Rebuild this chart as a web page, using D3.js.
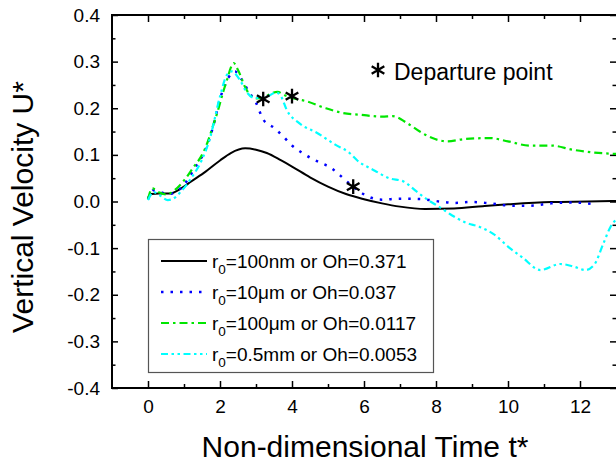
<!DOCTYPE html>
<html>
<head>
<meta charset="utf-8">
<script src="https://cdn.jsdelivr.net/npm/d3@7"></script>
<style>
  body { margin: 0; background: #fff; }
  svg { display: block; font-family: "Liberation Sans", Arial, Helvetica, sans-serif; }
</style>
</head>
<body>
<div id="chart"></div>
<script>
// tick values
const xMajorTicks = [0, 2, 4, 6, 8, 10, 12]
const xMinorTicks = [1, 3, 5, 7, 9, 11]
const yMajorTicks = [-0.4, -0.3, -0.2, -0.1, 0.0, 0.1, 0.2, 0.3, 0.4]
const yMinorTicks = [-0.35, -0.25, -0.15, -0.05, 0.05, 0.15, 0.25, 0.35]

// series: r0 = 100nm (Oh = 0.371)
const tBlack = [0, 0.1, 0.3, 0.6, 0.9, 1.2, 1.6, 2.0, 2.3, 2.7, 3.0, 3.3, 3.7, 4.0, 4.5, 5.0, 5.5, 6.0, 6.5, 7.0, 7.7, 8.5, 9.3, 10.0, 11.2, 12.2, 13.0]
const uBlack = [0.008, 0.016, 0.017, 0.017, 0.027, 0.043, 0.064, 0.088, 0.104, 0.114, 0.111, 0.104, 0.088, 0.075, 0.052, 0.032, 0.016, 0.005, -0.004, -0.011, -0.016, -0.015, -0.010, -0.006, -0.001, 0.0, 0.001]

// r0 = 10um (Oh = 0.037)
const tBlue = [0, 0.15, 0.35, 0.55, 0.8, 1.0, 1.3, 1.6, 1.8, 2.0, 2.15, 2.3, 2.42, 2.6, 2.8, 3.0, 3.2, 3.5, 3.75, 4.0, 4.25, 4.55, 4.8, 5.1, 5.35, 5.6, 5.9, 6.2, 6.5, 7.0, 7.6, 8.1, 8.5, 9.0, 9.5, 10.1, 10.6, 11.2, 11.8, 12.3]
const uBlue = [0.005, 0.024, 0.02, 0.016, 0.022, 0.036, 0.072, 0.112, 0.158, 0.22, 0.252, 0.273, 0.279, 0.262, 0.235, 0.212, 0.176, 0.158, 0.14, 0.12, 0.106, 0.092, 0.083, 0.071, 0.055, 0.038, 0.02, 0.008, 0.004, 0.006, 0.005, 0.0, -0.003, -0.001, -0.004, -0.009, -0.009, -0.004, -0.002, -0.005]

// r0 = 100um (Oh = 0.0117)
const tGreen = [0, 0.12, 0.3, 0.5, 0.75, 1.0, 1.25, 1.5, 1.65, 1.8, 1.95, 2.1, 2.2, 2.3, 2.38, 2.5, 2.7, 2.85, 3.0, 3.2, 3.4, 3.6, 3.8, 4.0, 4.4, 4.9, 5.4, 5.9, 6.5, 6.8, 7.2, 7.55, 7.9, 8.3, 8.8, 9.5, 10.0, 10.6, 11.2, 11.8, 12.4, 13.0]
const uGreen = [0.005, 0.028, 0.02, 0.015, 0.025, 0.045, 0.072, 0.1, 0.126, 0.161, 0.197, 0.238, 0.262, 0.287, 0.297, 0.282, 0.245, 0.227, 0.221, 0.222, 0.231, 0.235, 0.228, 0.222, 0.215, 0.201, 0.19, 0.186, 0.182, 0.183, 0.168, 0.15, 0.136, 0.129, 0.134, 0.136, 0.129, 0.12, 0.12, 0.111, 0.105, 0.102]

// r0 = 0.5mm (Oh = 0.0053)
const tCyan = [0, 0.15, 0.35, 0.55, 0.7, 0.9, 1.2, 1.5, 1.7, 2.0, 2.18, 2.32, 2.55, 2.73, 2.96, 3.3, 3.56, 3.7, 3.85, 4.2, 4.7, 5.2, 5.6, 5.8, 6.3, 6.7, 7.1, 7.45, 7.8, 8.1, 8.45, 8.85, 9.2, 9.6, 10.05, 10.4, 10.9, 11.45, 11.8, 12.15, 12.4, 12.65, 12.85, 13.0]
const uCyan = [0.003, 0.02, 0.012, 0.003, 0.006, 0.02, 0.05, 0.09, 0.13, 0.225, 0.27, 0.279, 0.261, 0.236, 0.222, 0.225, 0.234, 0.225, 0.197, 0.168, 0.147, 0.122, 0.104, 0.089, 0.066, 0.05, 0.043, 0.022, 0.002, -0.012, -0.03, -0.046, -0.054, -0.07, -0.1, -0.12, -0.147, -0.134, -0.139, -0.147, -0.135, -0.09, -0.054, -0.039]

// departure points
const tDepart = [3.2, 4.0, 5.7]
const uDepart = [0.22, 0.226, 0.032]

// legend text
const legendSizes = ["100nm", "10\u03bcm", "100\u03bcm", "0.5mm"]
const legendOh = ["0.371", "0.037", "0.0117", "0.0053"]

const series = [
  { t: tBlack, u: uBlack, color: "#000000", dash: null, width: 2 },
  { t: tBlue, u: uBlue, color: "#0000ff", dash: "2.5,7", width: 2.5 },
  { t: tGreen, u: uGreen, color: "#00e600", dash: "8,4,2.5,4", width: 2.2 },
  { t: tCyan, u: uCyan, color: "#00ffff", dash: "7,3.5,2.5,3.5,2.5,3.5", width: 2.2 }
]

const W = 616, H = 464
const PLOT = { LEFT: 112, RIGHT: 616, TOP: 15, BOTTOM: 388 }

const svg = d3.select("#chart").append("svg")
  .attr("width", W)
  .attr("height", H)

const x = d3.scaleLinear().domain([-1, 13]).range([PLOT.LEFT, PLOT.RIGHT])
const y = d3.scaleLinear().domain([-0.4, 0.4]).range([PLOT.BOTTOM, PLOT.TOP])

svg.append("clipPath").attr("id", "clip")
  .append("rect")
  .attr("x", PLOT.LEFT).attr("y", PLOT.TOP)
  .attr("width", PLOT.RIGHT - PLOT.LEFT).attr("height", PLOT.BOTTOM - PLOT.TOP)

const fmt = d => d3.format(".1f")(d).replace("\u2212", "-")

// axes, ticks inward
function styleAxis(g) {
  g.select(".domain").remove()
  g.selectAll(".tick line").attr("stroke", "#000").attr("stroke-width", 1.5)
  g.selectAll("text").attr("font-size", "19px").attr("fill", "#000")
    .attr("font-family", "'Liberation Sans', Arial, Helvetica, sans-serif")
}

svg.append("g").attr("transform", `translate(0,${PLOT.BOTTOM})`)
  .call(d3.axisBottom(x).tickValues(xMajorTicks).tickSizeInner(-7).tickSizeOuter(0).tickPadding(12).tickFormat(d3.format("d")))
  .call(styleAxis)
svg.append("g").attr("transform", `translate(0,${PLOT.BOTTOM})`)
  .call(d3.axisBottom(x).tickValues(xMinorTicks).tickSizeInner(-4).tickSizeOuter(0).tickFormat(""))
  .call(styleAxis)
svg.append("g").attr("transform", `translate(0,${PLOT.TOP})`)
  .call(d3.axisTop(x).tickValues(xMajorTicks).tickSizeInner(-7).tickSizeOuter(0).tickFormat(""))
  .call(styleAxis)
svg.append("g").attr("transform", `translate(0,${PLOT.TOP})`)
  .call(d3.axisTop(x).tickValues(xMinorTicks).tickSizeInner(-4).tickSizeOuter(0).tickFormat(""))
  .call(styleAxis)

svg.append("g").attr("transform", `translate(${PLOT.LEFT},0)`)
  .call(d3.axisLeft(y).tickValues(yMajorTicks).tickSizeInner(-6).tickSizeOuter(0).tickPadding(12).tickFormat(fmt))
  .call(styleAxis)
svg.append("g").attr("transform", `translate(${PLOT.LEFT},0)`)
  .call(d3.axisLeft(y).tickValues(yMinorTicks).tickSizeInner(-3.5).tickSizeOuter(0).tickFormat(""))
  .call(styleAxis)
svg.append("g").attr("transform", `translate(${PLOT.RIGHT},0)`)
  .call(d3.axisRight(y).tickValues(yMajorTicks).tickSizeInner(-6).tickSizeOuter(0).tickFormat(""))
  .call(styleAxis)
svg.append("g").attr("transform", `translate(${PLOT.RIGHT},0)`)
  .call(d3.axisRight(y).tickValues(yMinorTicks).tickSizeInner(-3.5).tickSizeOuter(0).tickFormat(""))
  .call(styleAxis)

// frame
svg.append("rect")
  .attr("x", PLOT.LEFT).attr("y", PLOT.TOP)
  .attr("width", PLOT.RIGHT - PLOT.LEFT + 1).attr("height", PLOT.BOTTOM - PLOT.TOP)
  .attr("fill", "none").attr("stroke", "#000").attr("stroke-width", 2)

// curves
const line = d3.line()
  .x(d => x(d[0]))
  .y(d => y(d[1]))
  .curve(d3.curveMonotoneX)

const curves = svg.append("g").attr("clip-path", "url(#clip)")
series.forEach(s => {
  curves.append("path")
    .datum(d3.zip(s.t, s.u))
    .attr("d", line)
    .attr("fill", "none")
    .attr("stroke", s.color)
    .attr("stroke-width", s.width)
    .attr("stroke-dasharray", s.dash)
})

// departure stars
const star = d3.symbol().type(d3.symbolAsterisk).size(150)
svg.append("g").selectAll("path")
  .data(d3.zip(tDepart, uDepart))
  .join("path")
  .attr("transform", d => `translate(${x(d[0])},${y(d[1])})`)
  .attr("d", star)
  .attr("fill", "none")
  .attr("stroke", "#000")
  .attr("stroke-width", 2.3)

// annotation
svg.append("path")
  .attr("transform", "translate(378,70)")
  .attr("d", star)
  .attr("fill", "none").attr("stroke", "#000").attr("stroke-width", 2.3)
svg.append("text")
  .attr("x", 394).attr("y", 80)
  .attr("font-size", "23px")
  .text("Departure point")

// legend
const legend = svg.append("g")
legend.append("rect")
  .attr("x", 148.5).attr("y", 239.5)
  .attr("width", 285).attr("height", 133)
  .attr("fill", "#fff").attr("stroke", "#555").attr("stroke-width", 1.2)

series.forEach((s, i) => {
  const ly = 261 + i * 31
  legend.append("line")
    .attr("x1", 161).attr("x2", 207)
    .attr("y1", ly).attr("y2", ly)
    .attr("stroke", s.color)
    .attr("stroke-width", s.width)
    .attr("stroke-dasharray", s.dash)
  const t = legend.append("text")
    .attr("x", 212).attr("y", ly + 6.5)
    .attr("font-size", "19px")
  t.append("tspan").text("r")
  t.append("tspan").attr("dy", 6).attr("font-size", "13.5px").text("0")
  t.append("tspan").attr("dy", -6).text(`=${legendSizes[i]} or Oh=${legendOh[i]}`)
})

// axis titles
svg.append("text")
  .attr("x", 365).attr("y", 457)
  .attr("text-anchor", "middle")
  .attr("font-size", "30px")
  .text("Non-dimensional Time t*")

svg.append("text")
  .attr("transform", "translate(33,207) rotate(-90)")
  .attr("text-anchor", "middle")
  .attr("font-size", "30px")
  .text("Vertical Velocity U*")
</script>
</body>
</html>
